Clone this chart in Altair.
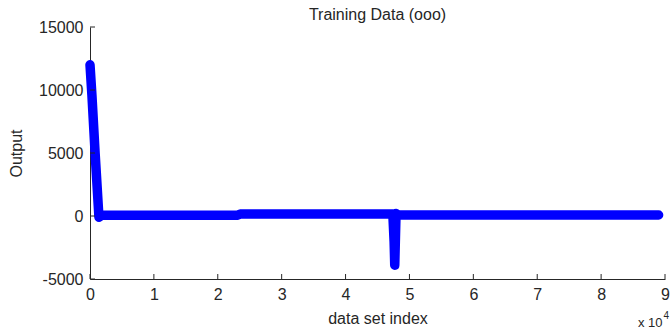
import altair as alt
import pandas as pd

# key points of the training-data trace (data set index, output)
idx = [0, 300, 800, 1400, 1800, 10000, 23000, 23500, 35000, 47400, 47600, 47700, 47900, 48300, 60000, 75000, 89000]
out = [12000, 9600, 5000, -100, 50, 50, 50, 150, 150, 150, -2000, -3900, 200, 80, 80, 80, 80]

x_ticks = [0, 10000, 20000, 30000, 40000, 50000, 60000, 70000, 80000, 90000]
y_ticks = [-5000, 0, 5000, 10000, 15000]

W, H = 575, 252
FONT = "Liberation Sans"
TXT = "#262626"

df = pd.DataFrame({"idx": idx, "out": out})
xt = pd.DataFrame({"v": x_ticks})
yt = pd.DataFrame({"v": y_ticks})

xs = alt.Scale(domain=[0, 90000], nice=False, zero=False)
ys = alt.Scale(domain=[-5000, 15000], nice=False, zero=False)

line = alt.Chart(df).mark_line(
    color="#0000ff", strokeWidth=9.5, strokeCap="round", strokeJoin="round"
).encode(
    x=alt.X("idx:Q", scale=xs, axis=alt.Axis(
        values=x_ticks, labelExpr="datum.value / 10000", ticks=False,
        labelFlush=False, labelOverlap=False,
        labelPadding=7, title="data set index", titlePadding=8,
        domainColor=TXT, labelColor=TXT, titleColor=TXT, grid=False,
        labelFont=FONT, labelFontSize=16, titleFont=FONT, titleFontSize=16,
        titleFontWeight="normal")),
    y=alt.Y("out:Q", scale=ys, axis=alt.Axis(
        values=y_ticks, labelExpr="datum.value + ''", ticks=False,
        labelFlush=False, labelOverlap=False,
        labelPadding=7, title="Output",
        titlePadding=14, domainColor=TXT, labelColor=TXT, titleColor=TXT,
        grid=False, labelFont=FONT, labelFontSize=16, titleFont=FONT,
        titleFontSize=16, titleFontWeight="normal")),
)

xtick = alt.Chart(xt).mark_rule(color=TXT, strokeWidth=1).encode(
    x=alt.X("v:Q", scale=xs), y=alt.value(H), y2=alt.value(H - 5))
ytick = alt.Chart(yt).mark_rule(color=TXT, strokeWidth=1).encode(
    y=alt.Y("v:Q", scale=ys), x=alt.value(0), x2=alt.value(5))

title = alt.Chart(pd.DataFrame({"t": ["Training Data (ooo)"]})).mark_text(
    font=FONT, fontSize=16, color=TXT, align="center", baseline="middle"
).encode(text="t:N", x=alt.value(W / 2), y=alt.value(-12))

exp_main = alt.Chart(pd.DataFrame({"t": ["x 10"]})).mark_text(
    font=FONT, fontSize=13, color=TXT, align="left", baseline="alphabetic"
).encode(text="t:N", x=alt.value(W - 27), y=alt.value(H + 48))
exp_sup = alt.Chart(pd.DataFrame({"t": ["4"]})).mark_text(
    font=FONT, fontSize=10, color=TXT, align="left", baseline="alphabetic"
).encode(text="t:N", x=alt.value(W - 1.5), y=alt.value(H + 40))

chart = alt.layer(line, xtick, ytick, title, exp_main, exp_sup).properties(
    width=W, height=H,
    autosize=alt.AutoSizeParams(type="none"),
    padding={"left": 90, "top": 27, "right": 5, "bottom": 55},
).configure_view(stroke=None)

chart.save("out.html", embed_options={"renderer": "svg", "actions": False})
